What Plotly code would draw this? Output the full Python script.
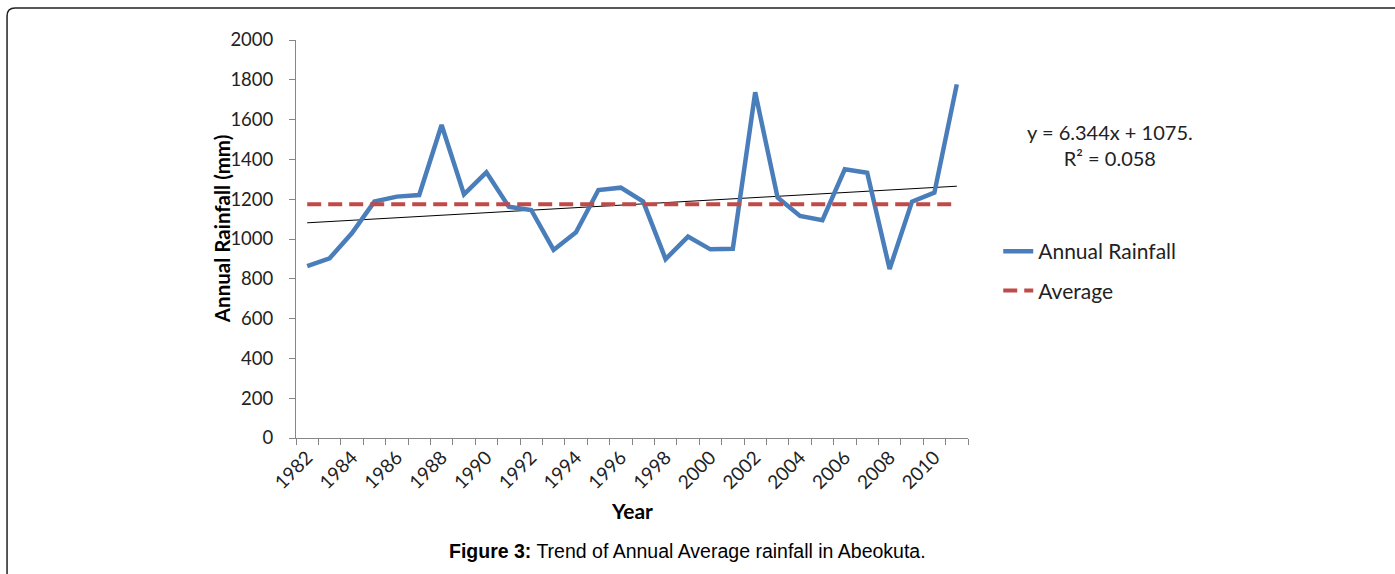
import plotly.graph_objects as go
import numpy as np

years = list(range(1982, 2012))
rainfall = [864, 903, 1030, 1188, 1213, 1221, 1573, 1224, 1335, 1162,
            1146, 945, 1034, 1246, 1258, 1188, 899, 1012, 948, 951,
            1737, 1208, 1116, 1095, 1350, 1333, 849, 1188, 1233, 1777]
tick_years = list(range(1982, 2011, 2))
trend_slope = 6.344
trend_intercept = 1075.0
equation_text = "y = 6.344x + 1075.<br>R² = 0.058"

average = float(np.mean(rainfall))
idx = np.arange(1, len(years) + 1)
trend = trend_slope * idx + trend_intercept

font = "Lato"
axis_gray = "#868686"

fig = go.Figure()
fig.add_trace(go.Scatter(x=years, y=trend, mode="lines",
                         line=dict(color="black", width=1),
                         showlegend=False, hoverinfo="skip"))
fig.add_trace(go.Scatter(x=years, y=rainfall, mode="lines", name="Annual Rainfall",
                         line=dict(color="#4A7EBB", width=4.5), legendgroup="a"))
fig.add_trace(go.Scatter(x=years, y=[average] * len(years), mode="lines", name="Average",
                         line=dict(color="#BE4B48", width=4, dash="14px,7px"), legendgroup="b"))

fig.update_layout(
    width=1395, height=574,
    margin=dict(l=296, r=427, t=40, b=136),
    paper_bgcolor="white", plot_bgcolor="white",
    font=dict(family=font, size=17, color="#222"),
    showlegend=True,
    legend=dict(x=1.045, y=0.4196, xanchor="left", yanchor="middle",
                font=dict(family=font, size=21, color="#222"),
                tracegroupgap=9, traceorder="grouped",
                bgcolor="rgba(0,0,0,0)"),
    xaxis=dict(range=[1981.5, 2011.5], tickmode="array", tickvals=tick_years,
               ticktext=[str(y) for y in tick_years], tickangle=-45,
               ticks="", showgrid=False, zeroline=False,
               showline=True, linecolor=axis_gray, linewidth=1,
               tickfont=dict(family=font, size=19, color="#222"),
               minor=dict(tick0=1981.5, dtick=1, ticks="outside", ticklen=6,
                          tickcolor=axis_gray, showgrid=False)),
    yaxis=dict(range=[0, 2000], dtick=200, ticks="outside", ticklen=6,
               tickcolor=axis_gray, showgrid=False, zeroline=False,
               showline=True, linecolor=axis_gray, linewidth=1,
               ticklabelstandoff=12,
               tickfont=dict(family=font, size=18.5, color="#222")),
)

fig.add_annotation(text="<b>Annual Rainfall (mm)</b>", textangle=-90,
                   x=-0.110, y=0.525, xref="paper", yref="paper",
                   xanchor="center", yanchor="middle",
                   showarrow=False, font=dict(family=font, size=20.5, color="black"))
fig.add_annotation(text="<b>Year</b>", x=0.5, y=-0.183, xref="paper", yref="paper",
                   xanchor="center", yanchor="middle",
                   showarrow=False, font=dict(family=font, size=21, color="black"))
fig.add_annotation(text=equation_text, x=1.211, y=0.736, xref="paper", yref="paper",
                   xanchor="center", yanchor="middle",
                   showarrow=False, align="center",
                   font=dict(family=font, size=20, color="#222"))
fig.add_annotation(text="<b>Figure 3:</b> Trend of Annual Average rainfall in Abeokuta.",
                   x=0.583, y=-0.284, xref="paper", yref="paper", showarrow=False,
                   xanchor="center", yanchor="middle",
                   font=dict(family="Liberation Sans", size=19.5, color="black"))

# outer frame with rounded top-left corner
x0, y0 = -0.430, 1.0804
x1, y1 = 1.65, -0.36
rx, ry = 8 / 672, 8 / 398
path = (f"M {x0},{y1} L {x0},{y0 - ry} Q {x0},{y0} {x0 + rx},{y0} L {x1},{y0}")
fig.add_shape(type="path", path=path, xref="paper", yref="paper",
              line=dict(color="#222", width=1.5))

fig.write_html("out.html", config={"displayModeBar": False},
               post_script="document.body.style.margin='0px';")
